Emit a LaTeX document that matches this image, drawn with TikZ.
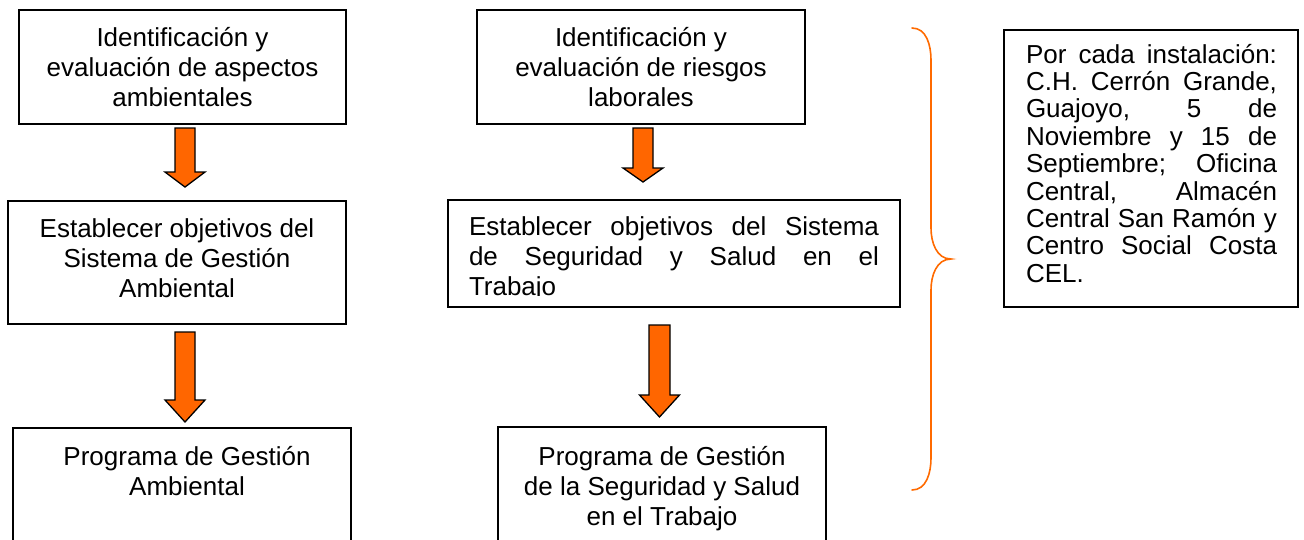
\documentclass[tikz,border=0pt]{standalone}
\usepackage{fontspec}
\setmainfont{Liberation Sans}
\definecolor{arrowor}{HTML}{FF6600}
\definecolor{braceor}{HTML}{FF6A00}
\newcommand\blockdown[5]{%
  \draw[blk] (#1-#5,#2) -- (#1+#5,#2) -- (#1+#5,#3) -- (#1+20,#3) -- (#1,#4) -- (#1-20,#3) -- (#1-#5,#3) -- cycle;}
\newcommand\jline[2]{\makebox[#1][s]{#2}}
\begin{document}
\begin{tikzpicture}[x=1pt,y=-1pt,
  box/.style={draw=black,line width=1.6pt,inner sep=0pt,fill=none},
  txt/.style={inner sep=0pt,outer sep=0pt,anchor=base},
  blk/.style={draw=black,line width=1.3pt,fill=arrowor,line join=miter},
  bracepath/.style={draw=braceor,line width=1.6pt,line cap=round}]
\useasboundingbox (0,0) rectangle (1304,539);
\clip (0,0) rectangle (1304,539);

% boxes
\node[box,minimum width=327pt,minimum height=114pt] (a1) at (182.5,67) {};
\node[box,minimum width=338pt,minimum height=123pt] (a2) at (177,262.5) {};
\node[box,minimum width=338pt,minimum height=152pt] (a3) at (182,504) {};
\node[box,minimum width=328pt,minimum height=114pt] (b1) at (641,67) {};
\node[box,minimum width=452pt,minimum height=107pt] (b2) at (674,253.5) {};
\node[box,minimum width=328pt,minimum height=153pt] (b3) at (662,503.5) {};
\node[box,minimum width=294pt,minimum height=277pt] (r) at (1151,168.5) {};

% texts
\node[txt] (a1t) at (182.5,46) {\parbox[t]{320pt}{\centering\fontsize{26}{30}\selectfont Identificación y\\evaluación de aspectos\\ambientales}};
\node[txt] (b1t) at (641,46) {\parbox[t]{320pt}{\centering\fontsize{26}{30}\selectfont Identificación y\\evaluación de riesgos\\laborales}};
\node[txt] (a2t) at (177,237) {\parbox[t]{330pt}{\centering\fontsize{26}{30}\selectfont Establecer objetivos del\\Sistema de Gestión\\Ambiental}};
\begin{scope}
  \clip (449,201) rectangle (899,295.6);
  \node[txt,anchor=base west] (b2t) at (469,235) {\parbox[t]{410pt}{\fontsize{26}{30}\selectfont\jline{410pt}{Establecer objetivos del Sistema}\\\jline{410pt}{de Seguridad y Salud en el}\\Trabajo}};
\end{scope}
\node[txt] (a3t) at (187,465) {\parbox[t]{330pt}{\centering\fontsize{26}{30}\selectfont Programa de Gestión\\Ambiental}};
\node[txt] (b3t) at (662,465) {\parbox[t]{320pt}{\centering\fontsize{26}{30}\selectfont Programa de Gestión\\de la Seguridad y Salud\\en el Trabajo}};
\node[txt,anchor=base west] (rt) at (1026,63) {\parbox[t]{251pt}{\fontsize{26}{27.4}\selectfont
  \jline{251pt}{Por cada instalación:}\\
  \jline{251pt}{C.H. Cerrón Grande,}\\
  \jline{251pt}{Guajoyo, 5 de}\\
  \jline{251pt}{Noviembre y 15 de}\\
  \jline{251pt}{Septiembre; Oficina}\\
  \jline{251pt}{Central, Almacén}\\
  \jline{251pt}{Central San Ramón y}\\
  \jline{251pt}{Centro Social Costa}\\
  CEL.}};

% block arrows
\blockdown{185}{128}{172}{187}{10}
\blockdown{185}{332}{400}{422}{10}
\blockdown{643}{128}{168}{182}{10}
\blockdown{659.5}{325}{395}{417}{10.5}

% brace
\coordinate (brtop) at (912,28);
\coordinate (brtip) at (951,259);
\coordinate (brbot) at (912,490);
\draw[bracepath] (brtop) to[out=0,in=90] (931,60) -- (931,228)
  to[out=-90,in=180] (brtip) to[out=180,in=90] (931,290) -- (931,458)
  to[out=-90,in=0] (brbot);
\end{tikzpicture}
\end{document}
